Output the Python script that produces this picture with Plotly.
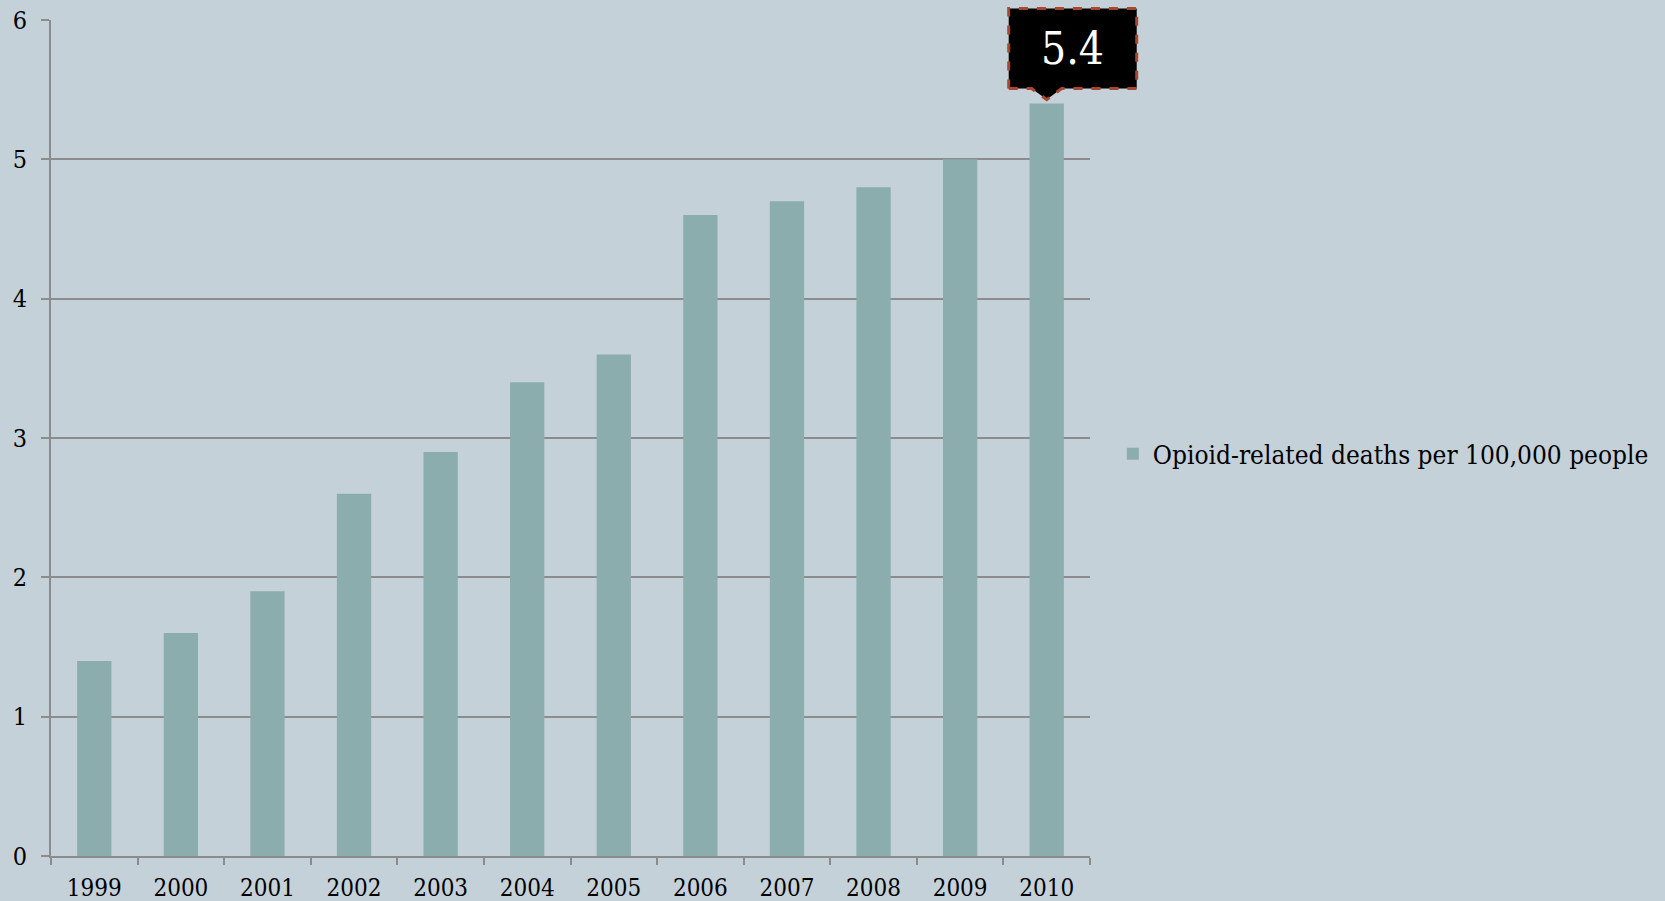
import plotly.graph_objects as go

years = ["1999", "2000", "2001", "2002", "2003", "2004", "2005", "2006", "2007", "2008", "2009", "2010"]
deaths = [1.4, 1.6, 1.9, 2.6, 2.9, 3.4, 3.6, 4.6, 4.7, 4.8, 5.0, 5.4]
series_name = "Opioid-related deaths per 100,000 people"
y_ticks = [0, 1, 2, 3, 4, 5, 6]

BG = "#C5D1D8"
BAR = "#8BADAE"
GRID = "#8C8C8C"
FONT = "DejaVu Serif Condensed, Liberation Serif, serif"

y_max = y_ticks[-1]
n = len(years)

fig = go.Figure()
fig.add_trace(go.Bar(x=years, y=deaths, name=series_name, marker=dict(color=BAR, line=dict(width=0)),
                     showlegend=True))

peak_idx = n - 1
peak_val = deaths[peak_idx]

# callout box with pointer, anchored (in plot fractions derived from the data) to the last bar
fig.add_shape(type="path", xref="paper", yref="paper", xsizemode="pixel", ysizemode="pixel",
              xanchor=(peak_idx + 0.5) / n, yanchor=peak_val / y_max,
              path="M -38,15 L -15,15 L 0,4 L 15,15 L 90,15 L 90,95 L -38,95 Z",
              fillcolor="black", line=dict(color="#A8472F", width=3, dash="dash"), layer="above")
fig.add_annotation(xref="x", yref="y", x=peak_idx, y=peak_val, text=f"{peak_val}", showarrow=False,
                   xshift=26, yshift=55, font=dict(family=FONT, size=44, color="white"))

fig.update_layout(
    width=1665, height=901,
    paper_bgcolor=BG, plot_bgcolor=BG,
    margin=dict(l=51, r=574, t=20, b=45),
    bargap=0.604,
    font=dict(family=FONT, size=24, color="black"),
    legend=dict(x=1.021, y=0.481, xanchor="left", yanchor="middle", bgcolor="rgba(0,0,0,0)",
                font=dict(family=FONT, size=26, color="black"), itemwidth=30),
    xaxis=dict(type="category", range=[-0.5, n - 0.5], showline=True, linecolor=GRID,
               linewidth=2, ticks="outside", tickson="boundaries", ticklen=7, tickcolor=GRID,
               tickwidth=2, showgrid=False, tickfont=dict(size=24), tickangle=0, automargin=False,
               ticklabelstandoff=9),
    yaxis=dict(range=[0, y_max], tickvals=y_ticks, showline=True, linecolor=GRID, linewidth=2,
               ticks="outside", ticklen=8, tickcolor=GRID, tickwidth=2, showgrid=True,
               gridcolor=GRID, gridwidth=1.5, zeroline=False, tickfont=dict(size=25),
               ticklabelstandoff=9, automargin=False),
)

fig.write_html("out.html", config={"displayModeBar": False},
               post_script="document.body.style.margin='0';document.body.style.overflow='hidden';")
